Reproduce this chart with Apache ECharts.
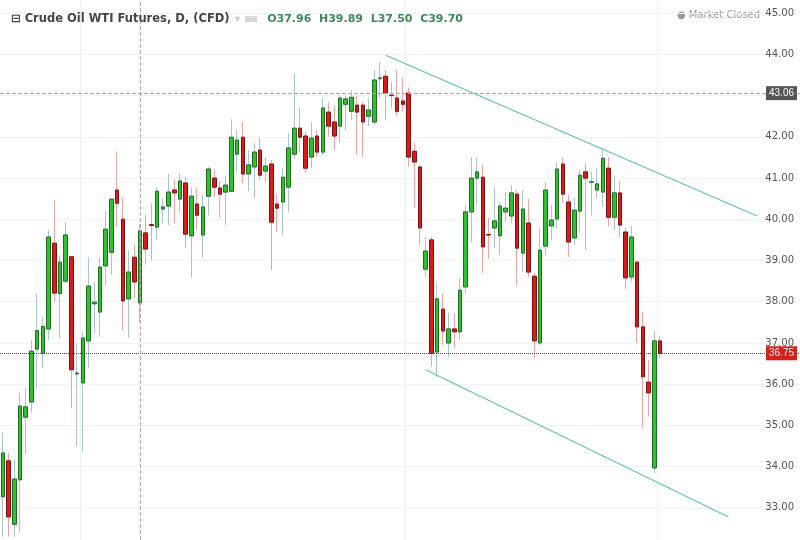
<!DOCTYPE html>
<html>
<head>
<meta charset="utf-8">
<script src="https://cdn.jsdelivr.net/npm/echarts@6/dist/echarts.min.js"></script>
<style>html,body{margin:0;padding:0;background:#fff}#main{width:800px;height:540px}</style>
</head>
<body>
<div id="main"></div>
<script>
// daily candles
var opens  = [33.27,34.14,32.6,33.68,35.2,35.57,36.85,36.75,37.34,39.42,38.2,38.5,39.09,36.25,36.03,37.05,37.95,37.75,38.87,39.2,
  40.71,40.0,38.07,39.08,37.97,39.67,39.87,39.81,40.25,40.32,40.71,40.49,40.88,39.6,40.37,39.62,40.56,41.0,40.76,40.66,
  40.68,41.58,41.99,41.1,41.27,41.68,41.17,41.34,40.37,40.42,40.78,41.58,42.21,42.02,41.51,42.02,41.63,42.6,42.36,42.26,
  42.79,42.62,42.77,42.77,42.5,42.36,43.41,43.47,43.01,42.94,42.87,43.06,41.65,41.27,38.79,39.5,36.78,37.82,37.0,37.34,
  37.27,38.36,40.18,41.0,41.02,39.63,39.79,39.6,40.18,40.08,40.61,39.18,39.91,38.62,37.0,39.35,39.84,40.01,41.34,40.42,
  39.55,40.2,41.15,40.9,40.71,40.66,41.24,40.05,40.64,39.69,38.6,38.96,37.39,36.05,33.97,37.05];
var closes = [34.33,32.78,33.7,35.47,35.45,36.8,37.3,37.4,39.57,38.21,38.96,39.62,36.35,36.27,37.12,38.38,37.99,38.84,39.76,40.49,
  40.39,38.02,38.72,38.48,39.72,39.28,39.85,40.68,40.3,40.66,40.64,40.93,39.64,40.56,40.1,40.3,41.22,40.78,40.61,40.83,
  41.99,41.92,41.1,41.32,41.63,41.07,41.29,39.93,40.27,41.02,41.73,42.21,41.99,41.24,41.97,41.63,42.7,42.26,42.02,42.94,
  42.92,42.96,42.6,42.36,42.65,43.38,43.43,43.06,43.0,42.62,42.79,41.51,41.39,39.79,39.23,36.75,38.07,37.29,37.34,37.27,
  38.28,40.18,41.0,41.15,39.33,39.62,39.96,40.32,40.27,40.64,39.3,40.25,38.72,37.05,39.25,40.71,39.98,41.22,40.61,39.45,
  40.22,41.07,41.0,40.91,40.86,41.48,40.05,40.64,39.86,38.58,39.57,37.39,36.18,35.79,37.05,36.75];
var highs  = [34.82,34.33,34.16,35.79,35.9,37.07,38.2,37.63,39.74,40.47,39.13,39.93,39.1,37.0,37.27,39.08,38.48,39.06,40.2,40.5,
  41.65,40.54,39.25,39.38,39.9,40.1,40.4,40.78,40.5,41.1,40.97,41.12,41.02,40.78,40.76,40.59,41.27,41.22,40.93,41.07,
  42.43,42.16,42.38,41.68,41.85,41.97,41.5,41.44,40.59,41.24,42.09,43.55,42.7,42.11,42.36,42.16,42.94,42.84,42.77,43.0,
  43.0,43.13,43.0,42.84,42.94,43.62,43.81,43.62,43.33,43.62,43.45,43.2,41.85,41.3,39.57,39.57,38.45,38.19,37.73,37.73,
  38.58,40.35,41.51,41.51,41.32,40.03,40.78,40.42,40.66,40.83,40.7,40.7,40.49,38.7,39.79,40.9,40.35,41.39,41.51,40.6,
  40.5,41.19,41.36,41.15,41.24,41.68,41.51,41.05,40.93,39.8,39.84,39.0,37.75,36.59,37.29,37.17];
var lows   = [32.3,32.3,32.3,32.4,34.3,35.3,35.9,36.4,37.07,38.0,37.12,38.45,35.42,34.48,34.36,36.4,37.24,37.15,38.4,38.65,
  39.81,37.31,37.12,38.1,37.5,38.9,39.0,39.5,39.9,39.86,39.9,40.18,39.3,38.58,39.74,39.08,40.1,40.54,40.05,39.86,
  40.66,41.15,40.88,40.68,40.5,40.97,40.9,38.77,39.69,39.62,40.18,41.48,41.63,41.12,41.24,41.51,41.56,42.0,41.68,41.85,
  42.16,42.4,41.56,41.51,42.26,42.3,42.94,42.4,42.7,42.5,42.6,41.27,40.27,39.38,38.6,36.42,36.18,36.95,36.66,36.88,
  37.07,38.2,39.45,40.35,38.7,39.04,39.3,39.13,39.93,39.9,38.4,38.72,38.6,36.64,36.95,39.13,39.5,39.79,40.4,39.08,
  39.38,39.67,39.25,40.1,40.5,40.3,39.84,39.74,39.57,38.31,38.5,37.0,34.94,35.21,33.85,36.64];
var slotCount = 140;
var yRange = [32.22, 45.32];
var yTicks = [33, 34, 35, 36, 37, 38, 39, 40, 41, 42, 43, 44, 45];
var lastPrice = 36.75;
var crossPrice = 43.06;
var upperChannel = [[67, 43.98], [132, 40.08]];
var lowerChannel = [[74, 36.35], [127, 32.78]];

var days = [];
for (var i = 0; i < slotCount; i++) days.push(String(i));
var wicks = [], bodies = [];
for (var i = 0; i < opens.length; i++) {
  wicks.push([opens[i], closes[i], lows[i], highs[i]]);
  bodies.push([opens[i], closes[i], Math.min(opens[i], closes[i]), Math.max(opens[i], closes[i])]);
}

var myChart = echarts.init(document.getElementById('main'));
myChart.setOption({
  animation: false,
  title: {
    left: 6, top: 5,
    text: '{b|⊟ Crude Oil WTI Futures, D, (CFD)} {g|▾  ◙◙}  {v|O37.96  H39.89  L37.50  C39.70}',
    textStyle: {
      rich: {
        b: {fontFamily: 'DejaVu Sans', fontSize: 11.5, fontWeight: 'bold', color: '#444'},
        g: {fontSize: 10, color: '#ccc'},
        v: {fontFamily: 'DejaVu Sans', fontSize: 11, color: '#3c8a5a'}
      }
    }
  },
  graphic: [{
    type: 'text', right: 40, top: 10,
    style: {text: '● Market Closed', fill: '#999', font: '10px DejaVu Sans'}
  }],
  grid: {left: 0, right: 0, top: 0, bottom: 0},
  xAxis: {
    type: 'category',
    data: days,
    axisLine: {show: false},
    axisTick: {show: false},
    axisLabel: {show: false},
    splitLine: {
      show: true,
      interval: function (idx) { return idx === 14 || idx === 71 || idx === 115; },
      lineStyle: {color: '#eef1f3'}
    }
  },
  yAxis: {
    type: 'value',
    position: 'right',
    min: yRange[0], max: yRange[1],
    axisLine: {show: false},
    axisTick: {show: false, customValues: yTicks},
    axisLabel: {
      inside: true, color: '#555', fontSize: 10, fontFamily: 'DejaVu Sans', margin: 6,
      customValues: yTicks,
      formatter: function (v) { return v.toFixed(2); }
    },
    splitLine: {lineStyle: {color: '#f0f2f4'}}
  },
  series: [
    {
      name: 'wick',
      type: 'candlestick',
      data: wicks,
      barWidth: 4,
      itemStyle: {color: 'rgba(0,0,0,0)', color0: 'rgba(0,0,0,0)', borderColor: '#a9c5cf', borderColor0: '#f0a3a3', borderWidth: 1}
    },
    {
      name: 'body',
      type: 'candlestick',
      data: bodies,
      barWidth: 4,
      itemStyle: {color: '#2fc12f', color0: '#d81c1c', borderColor: '#1f6e1f', borderColor0: '#7e1212', borderWidth: 1},
      markLine: {
        silent: true,
        symbol: 'none',
        data: [
          {yAxis: lastPrice, lineStyle: {color: '#c01818', type: 'dotted', width: 1},
           label: {show: true, position: 'insideEnd', distance: 3, formatter: lastPrice.toFixed(2), color: '#fff', backgroundColor: '#d6201a', padding: [2, 3], fontSize: 10}},
          {yAxis: crossPrice, lineStyle: {color: '#aaa', type: 'dashed', width: 1},
           label: {show: true, position: 'insideEnd', distance: 3, formatter: crossPrice.toFixed(2), color: '#fff', backgroundColor: '#555', padding: [2, 3], fontSize: 10}},
          {xAxis: 24, lineStyle: {color: '#aaa', type: 'dashed', width: 1}},
          [{coord: upperChannel[0]}, {coord: upperChannel[1]}],
          [{coord: lowerChannel[0]}, {coord: lowerChannel[1]}]
        ],
        lineStyle: {color: '#62c3ad', type: 'solid', width: 1.2},
        label: {show: false}
      }
    }
  ]
});
</script>
</body>
</html>
